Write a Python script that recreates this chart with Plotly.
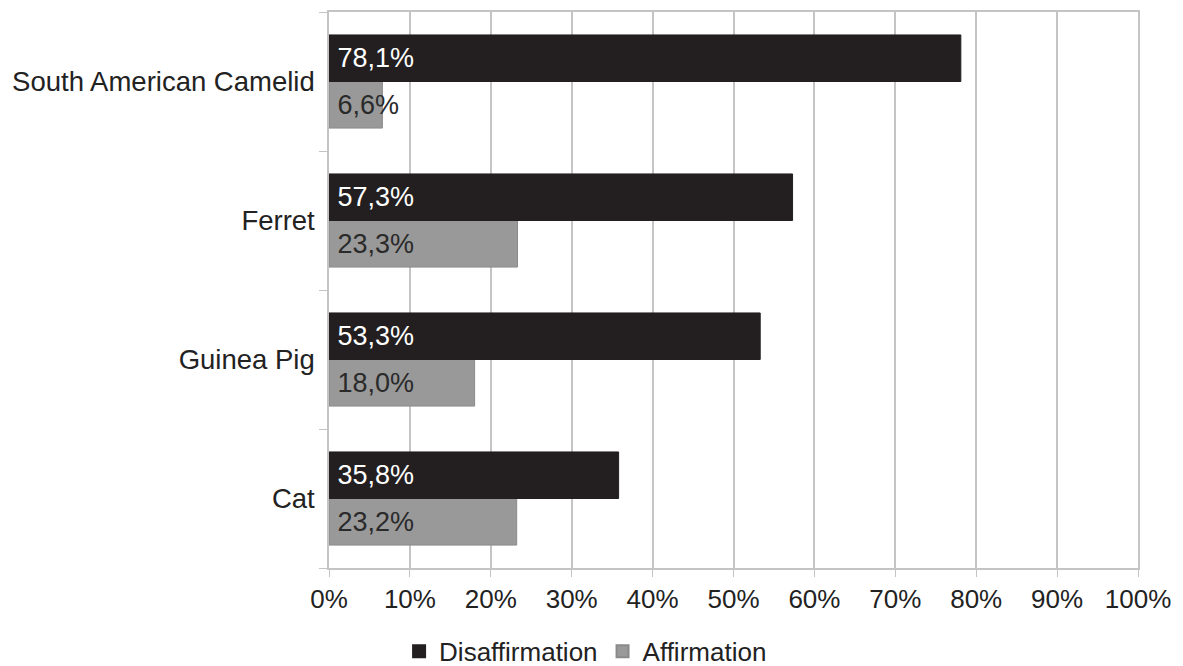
import plotly.graph_objects as go

categories = ["Cat", "Guinea Pig", "Ferret", "South American Camelid"]
disaffirmation = [35.8, 53.3, 57.3, 78.1]
affirmation = [23.2, 18.0, 23.3, 6.6]
x_ticks = [0, 10, 20, 30, 40, 50, 60, 70, 80, 90, 100]

def fmt(v):
    return "\u2009" + f"{v:.1f}".replace(".", ",") + "%"

FONT = "Liberation Sans, Arial, sans-serif"

fig = go.Figure()
fig.add_trace(go.Bar(
    y=categories, x=affirmation, orientation="h", name="Affirmation",
    marker=dict(color="#999999", line=dict(color="#8a8a8a", width=1)),
    text=[fmt(v) for v in affirmation], textposition="inside",
    insidetextanchor="start", constraintext="none",
    textfont=dict(color="#2a2a2a", size=27, family=FONT),
))
fig.add_trace(go.Bar(
    y=categories, x=disaffirmation, orientation="h", name="Disaffirmation",
    marker=dict(color="#231f20", line=dict(color="#231f20", width=1)),
    text=[fmt(v) for v in disaffirmation], textposition="inside",
    insidetextanchor="start", constraintext="none",
    textfont=dict(color="#ffffff", size=27, family=FONT),
))

fig.update_layout(
    width=1183, height=666,
    margin=dict(l=329, r=45, t=10, b=98),
    barmode="group", bargap=0.33, bargroupgap=0,
    plot_bgcolor="white", paper_bgcolor="white",
    font=dict(family=FONT, size=26, color="#222222"),
    showlegend=True,
    legend=dict(orientation="h", traceorder="reversed",
                xref="container", yref="container",
                x=0.495, xanchor="center", y=0.022, yanchor="middle",
                font=dict(size=26, color="#222222", family=FONT),
                itemwidth=30, itemsizing="constant"),
    uniformtext=dict(mode=False),
)
fig.update_xaxes(
    range=[0, 100], tickvals=x_ticks, ticktext=[f"{t}%" for t in x_ticks],
    showgrid=True, gridcolor="#c4c4c4", gridwidth=1.5,
    showline=True, linecolor="#c4c4c4", linewidth=1.5, mirror=True,
    ticks="outside", ticklen=7, tickcolor="#c4c4c4",
    tickfont=dict(size=26, color="#222222"), zeroline=False,
)
fig.update_yaxes(
    categoryorder="array", categoryarray=categories,
    showline=True, linecolor="#c4c4c4", linewidth=1.5, mirror=True,
    ticks="outside", ticklen=8, tickcolor="#c4c4c4", tickson="boundaries",
    ticklabelstandoff=7,
    tickfont=dict(size=27.5, color="#222222"), showgrid=False,
)

fig.write_html("out.html")
